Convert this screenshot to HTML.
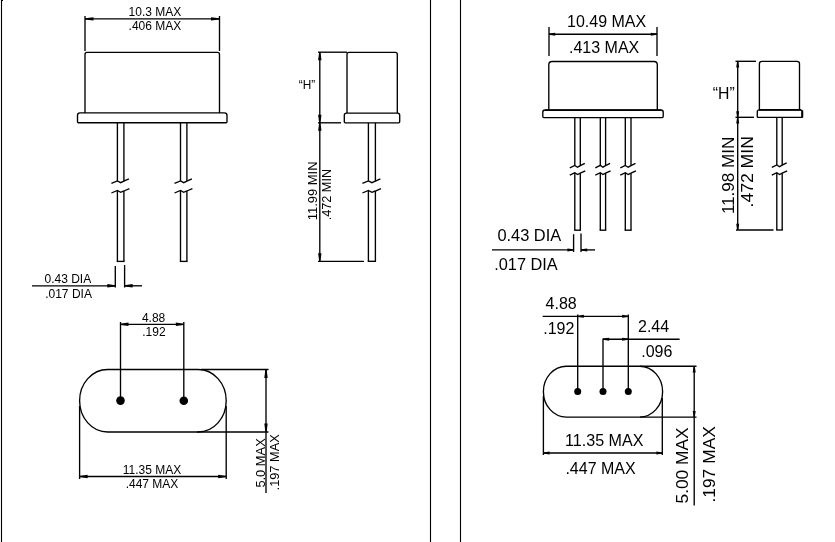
<!DOCTYPE html>
<html><head><meta charset="utf-8"><style>
html,body{margin:0;padding:0;background:#fff;width:835px;height:542px;overflow:hidden}
svg{display:block;will-change:transform}
text{font-family:"Liberation Sans",sans-serif;fill:#000}
</style></head><body>
<svg width="835" height="542" viewBox="0 0 835 542">
<rect width="835" height="542" fill="#fff"/>
<line x1="1.5" y1="0" x2="1.5" y2="542" stroke="#000" stroke-width="1.1"/>
<line x1="1" y1="0.5" x2="3" y2="0.5" stroke="#000" stroke-width="1.1"/>
<line x1="430.5" y1="0" x2="430.5" y2="542" stroke="#000" stroke-width="1.1"/>
<line x1="460.5" y1="0" x2="460.5" y2="542" stroke="#000" stroke-width="1.1"/>
<line x1="85" y1="16" x2="85" y2="51" stroke="#000" stroke-width="1.35"/>
<line x1="219.5" y1="16" x2="219.5" y2="51" stroke="#000" stroke-width="1.35"/>
<line x1="85" y1="18.9" x2="219.5" y2="18.9" stroke="#000" stroke-width="1.35"/>
<polygon points="85.00,18.30 93.50,17.20 93.50,20.60 85.00,19.50" fill="#000"/>
<polygon points="219.50,18.30 211.00,17.20 211.00,20.60 219.50,19.50" fill="#000"/>
<text x="128.6" y="16.1" font-size="12" text-anchor="start">10.3 MAX</text>
<text x="128.6" y="30.2" font-size="12" text-anchor="start">.406 MAX</text>
<path d="M85,112.9 L85,54.4 Q85,52.4 87,52.4 L217.5,52.4 Q219.5,52.4 219.5,54.4 L219.5,112.9" stroke="#000" stroke-width="1.35" fill="none"/>
<path d="M80.0,112.9 L224.5,112.9 Q227,112.9 227,115.4 L227,121.7 Q227,122.7 226,122.7 L78.5,122.7 Q77.5,122.7 77.5,121.7 L77.5,115.4 Q77.5,112.9 80.0,112.9 Z" stroke="#000" stroke-width="1.35" fill="none"/>
<line x1="117.4" y1="122.7" x2="117.4" y2="180.9" stroke="#000" stroke-width="1.35"/>
<line x1="123.9" y1="122.7" x2="123.9" y2="181.1" stroke="#000" stroke-width="1.35"/>
<line x1="117.4" y1="190.5" x2="117.4" y2="261.4" stroke="#000" stroke-width="1.35"/>
<line x1="123.9" y1="191.0" x2="123.9" y2="261.4" stroke="#000" stroke-width="1.35"/>
<line x1="116.72500000000001" y1="261.4" x2="124.575" y2="261.4" stroke="#000" stroke-width="1.35"/>
<path d="M111.4,183.3 L117.4,180.9 L120.65,182.7 L123.9,181.1 L128.9,178.9" stroke="#000" stroke-width="1.35" fill="none"/>
<path d="M111.4,193.0 L117.4,190.5 L120.65,192.3 L123.9,191.0 L129.4,188.60000000000002" stroke="#000" stroke-width="1.35" fill="none"/>
<line x1="180.5" y1="122.7" x2="180.5" y2="180.9" stroke="#000" stroke-width="1.35"/>
<line x1="186.9" y1="122.7" x2="186.9" y2="181.1" stroke="#000" stroke-width="1.35"/>
<line x1="180.5" y1="190.5" x2="180.5" y2="261.4" stroke="#000" stroke-width="1.35"/>
<line x1="186.9" y1="191.0" x2="186.9" y2="261.4" stroke="#000" stroke-width="1.35"/>
<line x1="179.825" y1="261.4" x2="187.57500000000002" y2="261.4" stroke="#000" stroke-width="1.35"/>
<path d="M174.5,183.3 L180.5,180.9 L183.7,182.7 L186.9,181.1 L191.9,178.9" stroke="#000" stroke-width="1.35" fill="none"/>
<path d="M174.5,193.0 L180.5,190.5 L183.7,192.3 L186.9,191.0 L192.4,188.60000000000002" stroke="#000" stroke-width="1.35" fill="none"/>
<line x1="115.3" y1="266" x2="115.3" y2="287.5" stroke="#000" stroke-width="1.35"/>
<line x1="124.6" y1="265" x2="124.6" y2="287.5" stroke="#000" stroke-width="1.35"/>
<line x1="32" y1="285.8" x2="115.3" y2="285.8" stroke="#000" stroke-width="1.35"/>
<polygon points="115.30,285.20 107.30,284.10 107.30,287.50 115.30,286.40" fill="#000"/>
<line x1="124.6" y1="285.8" x2="142" y2="285.8" stroke="#000" stroke-width="1.35"/>
<polygon points="124.60,285.20 132.60,284.10 132.60,287.50 124.60,286.40" fill="#000"/>
<text x="44.5" y="283" font-size="12" text-anchor="start">0.43 DIA</text>
<text x="45.2" y="297.6" font-size="12" text-anchor="start">.017 DIA</text>
<line x1="318" y1="52.2" x2="347" y2="52.2" stroke="#000" stroke-width="1.35"/>
<path d="M347,113.1 L347,54.4 Q347,52.4 349,52.4 L395.3,52.4 Q397.3,52.4 397.3,54.4 L397.3,113.1" stroke="#000" stroke-width="1.35" fill="none"/>
<path d="M346.5,113.1 L397.5,113.1 Q399.7,113.1 399.7,115.3 L399.7,121.8 Q399.7,122.8 398.7,122.8 L345.3,122.8 Q344.3,122.8 344.3,121.8 L344.3,115.3 Q344.3,113.1 346.5,113.1 Z" stroke="#000" stroke-width="1.35" fill="none"/>
<line x1="318" y1="122.8" x2="341" y2="122.8" stroke="#000" stroke-width="1.35"/>
<line x1="319.8" y1="52.2" x2="319.8" y2="122.8" stroke="#000" stroke-width="1.35"/>
<polygon points="319.20,52.20 318.10,60.20 321.50,60.20 320.40,52.20" fill="#000"/>
<polygon points="319.20,122.80 318.10,114.80 321.50,114.80 320.40,122.80" fill="#000"/>
<line x1="319.8" y1="122.8" x2="319.8" y2="261.3" stroke="#000" stroke-width="1.35"/>
<polygon points="319.20,122.80 318.10,130.80 321.50,130.80 320.40,122.80" fill="#000"/>
<polygon points="319.20,261.30 318.10,253.30 321.50,253.30 320.40,261.30" fill="#000"/>
<line x1="318" y1="261.3" x2="364" y2="261.3" stroke="#000" stroke-width="1.35"/>
<text transform="translate(298.8,89.3) scale(0.95,1.09)" font-size="12.5" text-anchor="start">“H”</text>
<line x1="368.4" y1="122.8" x2="368.4" y2="180.9" stroke="#000" stroke-width="1.35"/>
<line x1="375.4" y1="122.8" x2="375.4" y2="181.1" stroke="#000" stroke-width="1.35"/>
<line x1="368.4" y1="190.5" x2="368.4" y2="261.3" stroke="#000" stroke-width="1.35"/>
<line x1="375.4" y1="191.0" x2="375.4" y2="261.3" stroke="#000" stroke-width="1.35"/>
<line x1="367.72499999999997" y1="261.3" x2="376.075" y2="261.3" stroke="#000" stroke-width="1.35"/>
<path d="M362.4,183.3 L368.4,180.9 L371.9,182.7 L375.4,181.1 L380.4,178.9" stroke="#000" stroke-width="1.35" fill="none"/>
<path d="M362.4,193.0 L368.4,190.5 L371.9,192.3 L375.4,191.0 L380.9,188.60000000000002" stroke="#000" stroke-width="1.35" fill="none"/>
<text transform="translate(317.2,220.2) rotate(-90) scale(1.035,0.96)" font-size="12.5" text-anchor="start">11.99 MIN</text>
<text transform="translate(330.9,220.3) rotate(-90) scale(1.03,1)" font-size="12.3" text-anchor="start">.472 MIN</text>
<path d="M107.6,369.5 L198.2,369.5 A28,31.25 0 0 1 198.2,432 L107.6,432 A28,31.25 0 0 1 107.6,369.5 Z" stroke="#000" stroke-width="1.35" fill="none"/>
<line x1="201" y1="369.5" x2="268.5" y2="369.5" stroke="#000" stroke-width="1.35"/>
<line x1="197" y1="432" x2="268.5" y2="432" stroke="#000" stroke-width="1.35"/>
<line x1="266" y1="369.5" x2="266" y2="432" stroke="#000" stroke-width="1.35"/>
<polygon points="265.40,369.50 264.30,378.00 267.70,378.00 266.60,369.50" fill="#000"/>
<polygon points="265.40,432.00 264.30,423.50 267.70,423.50 266.60,432.00" fill="#000"/>
<line x1="266" y1="432" x2="266" y2="493" stroke="#000" stroke-width="1.35"/>
<circle cx="120.5" cy="400.6" r="4.3" fill="#000"/>
<circle cx="183.8" cy="400.8" r="4.3" fill="#000"/>
<line x1="120.5" y1="322" x2="120.5" y2="400" stroke="#000" stroke-width="1.35"/>
<line x1="183.8" y1="322" x2="183.8" y2="400" stroke="#000" stroke-width="1.35"/>
<line x1="120.5" y1="324.3" x2="183.8" y2="324.3" stroke="#000" stroke-width="1.35"/>
<polygon points="120.50,323.70 128.50,322.60 128.50,326.00 120.50,324.90" fill="#000"/>
<polygon points="183.80,323.70 175.80,322.60 175.80,326.00 183.80,324.90" fill="#000"/>
<text x="153.6" y="321.8" font-size="12" text-anchor="middle">4.88</text>
<text x="153.9" y="336.3" font-size="12" text-anchor="middle">.192</text>
<line x1="79.6" y1="406" x2="79.6" y2="479" stroke="#000" stroke-width="1.35"/>
<line x1="226.2" y1="406" x2="226.2" y2="479" stroke="#000" stroke-width="1.35"/>
<line x1="79.6" y1="476.5" x2="226.2" y2="476.5" stroke="#000" stroke-width="1.35"/>
<polygon points="79.60,475.90 87.60,474.80 87.60,478.20 79.60,477.10" fill="#000"/>
<polygon points="226.20,475.90 218.20,474.80 218.20,478.20 226.20,477.10" fill="#000"/>
<text x="152" y="473.9" font-size="12" text-anchor="middle">11.35 MAX</text>
<text x="152" y="488" font-size="12" text-anchor="middle">.447 MAX</text>
<text transform="translate(264.6,487.6) rotate(-90) scale(1.046,1)" font-size="12.3" text-anchor="start">5.0 MAX</text>
<text transform="translate(278.9,490.4) rotate(-90) scale(1.04,1)" font-size="12.3" text-anchor="start">.197 MAX</text>
<line x1="549" y1="27" x2="549" y2="56" stroke="#000" stroke-width="1.35"/>
<line x1="657" y1="27" x2="657" y2="56" stroke="#000" stroke-width="1.35"/>
<line x1="549" y1="34.2" x2="657" y2="34.2" stroke="#000" stroke-width="1.35"/>
<polygon points="549.00,33.60 555.20,32.70 555.20,35.70 549.00,34.80" fill="#000"/>
<polygon points="657.00,33.60 650.80,32.70 650.80,35.70 657.00,34.80" fill="#000"/>
<text x="567" y="26.6" font-size="16" text-anchor="start">10.49 MAX</text>
<text x="569" y="53.4" font-size="16" text-anchor="start">.413 MAX</text>
<path d="M548.8,110 L548.8,64.7 Q548.8,61.5 552.0,61.5 L654.0999999999999,61.5 Q657.3,61.5 657.3,64.7 L657.3,110" stroke="#000" stroke-width="1.35" fill="none"/>
<path d="M545.0,110 L661.0,110 Q663.2,110 663.2,112.2 L663.2,116.6 Q663.2,117.6 662.2,117.6 L543.8,117.6 Q542.8,117.6 542.8,116.6 L542.8,112.2 Q542.8,110 545.0,110 Z" stroke="#000" stroke-width="1.35" fill="none"/>
<line x1="545" y1="110.2" x2="661" y2="110.2" stroke="#000" stroke-width="1.5"/>
<line x1="574.8" y1="117.7" x2="574.8" y2="165.4" stroke="#000" stroke-width="1.35"/>
<line x1="580.3" y1="117.7" x2="580.3" y2="165.6" stroke="#000" stroke-width="1.35"/>
<line x1="574.8" y1="172.7" x2="574.8" y2="230.2" stroke="#000" stroke-width="1.35"/>
<line x1="580.3" y1="173.2" x2="580.3" y2="230.2" stroke="#000" stroke-width="1.35"/>
<line x1="574.125" y1="230.2" x2="580.9749999999999" y2="230.2" stroke="#000" stroke-width="1.35"/>
<path d="M569.8,167.8 L574.8,165.4 L577.55,167.2 L580.3,165.6 L584.8,163.4" stroke="#000" stroke-width="1.35" fill="none"/>
<path d="M569.8,175.2 L574.8,172.7 L577.55,174.5 L580.3,173.2 L585.25,170.8" stroke="#000" stroke-width="1.35" fill="none"/>
<line x1="600.3" y1="117.7" x2="600.3" y2="165.4" stroke="#000" stroke-width="1.35"/>
<line x1="605.6" y1="117.7" x2="605.6" y2="165.6" stroke="#000" stroke-width="1.35"/>
<line x1="600.3" y1="172.7" x2="600.3" y2="230.2" stroke="#000" stroke-width="1.35"/>
<line x1="605.6" y1="173.2" x2="605.6" y2="230.2" stroke="#000" stroke-width="1.35"/>
<line x1="599.625" y1="230.2" x2="606.275" y2="230.2" stroke="#000" stroke-width="1.35"/>
<path d="M595.3,167.8 L600.3,165.4 L602.95,167.2 L605.6,165.6 L610.1,163.4" stroke="#000" stroke-width="1.35" fill="none"/>
<path d="M595.3,175.2 L600.3,172.7 L602.95,174.5 L605.6,173.2 L610.5500000000001,170.8" stroke="#000" stroke-width="1.35" fill="none"/>
<line x1="625.3" y1="117.7" x2="625.3" y2="165.4" stroke="#000" stroke-width="1.35"/>
<line x1="631" y1="117.7" x2="631" y2="165.6" stroke="#000" stroke-width="1.35"/>
<line x1="625.3" y1="172.7" x2="625.3" y2="230.2" stroke="#000" stroke-width="1.35"/>
<line x1="631" y1="173.2" x2="631" y2="230.2" stroke="#000" stroke-width="1.35"/>
<line x1="624.625" y1="230.2" x2="631.675" y2="230.2" stroke="#000" stroke-width="1.35"/>
<path d="M620.3,167.8 L625.3,165.4 L628.15,167.2 L631,165.6 L635.5,163.4" stroke="#000" stroke-width="1.35" fill="none"/>
<path d="M620.3,175.2 L625.3,172.7 L628.15,174.5 L631,173.2 L635.95,170.8" stroke="#000" stroke-width="1.35" fill="none"/>
<line x1="573.6" y1="234.2" x2="573.6" y2="252" stroke="#000" stroke-width="1.35"/>
<line x1="581" y1="233.4" x2="581" y2="252" stroke="#000" stroke-width="1.35"/>
<line x1="492" y1="249.9" x2="573.6" y2="249.9" stroke="#000" stroke-width="1.35"/>
<polygon points="573.60,249.30 567.40,248.40 567.40,251.40 573.60,250.50" fill="#000"/>
<line x1="581" y1="249.9" x2="595" y2="249.9" stroke="#000" stroke-width="1.35"/>
<polygon points="581.00,249.30 587.20,248.40 587.20,251.40 581.00,250.50" fill="#000"/>
<text transform="translate(497.4,240.9) scale(1.025,1)" font-size="16" text-anchor="start">0.43 DIA</text>
<text transform="translate(494.2,269.7) scale(1.02,1)" font-size="16" text-anchor="start">.017 DIA</text>
<line x1="735.5" y1="61.3" x2="756" y2="61.3" stroke="#000" stroke-width="1.35"/>
<path d="M759.4,109.8 L759.4,63.8 Q759.4,61.3 761.9,61.3 L797.0,61.3 Q799.5,61.3 799.5,63.8 L799.5,109.8" stroke="#000" stroke-width="1.35" fill="none"/>
<path d="M759.3,109.8 L800.4,109.8 Q802.4,109.8 802.4,111.8 L802.4,116.8 Q802.4,117.3 801.9,117.3 L757.8,117.3 Q757.3,117.3 757.3,116.8 L757.3,111.8 Q757.3,109.8 759.3,109.8 Z" stroke="#000" stroke-width="1.35" fill="none"/>
<line x1="802.2" y1="110.5" x2="802.2" y2="117.6" stroke="#000" stroke-width="2"/>
<line x1="759" y1="109.9" x2="801" y2="109.9" stroke="#000" stroke-width="1.6"/>
<line x1="735.5" y1="117.3" x2="754" y2="117.3" stroke="#000" stroke-width="1.35"/>
<line x1="737.7" y1="61.3" x2="737.7" y2="117.4" stroke="#000" stroke-width="1.35"/>
<polygon points="737.10,61.30 736.20,67.50 739.20,67.50 738.30,61.30" fill="#000"/>
<polygon points="737.10,117.40 736.20,111.20 739.20,111.20 738.30,117.40" fill="#000"/>
<line x1="737.7" y1="117.4" x2="737.7" y2="230" stroke="#000" stroke-width="1.35"/>
<polygon points="737.10,117.40 736.20,123.60 739.20,123.60 738.30,117.40" fill="#000"/>
<polygon points="737.10,230.00 736.20,223.80 739.20,223.80 738.30,230.00" fill="#000"/>
<line x1="736" y1="230" x2="773.5" y2="230" stroke="#000" stroke-width="1.35"/>
<line x1="776.8" y1="117.5" x2="776.8" y2="164.9" stroke="#000" stroke-width="1.35"/>
<line x1="782.2" y1="117.5" x2="782.2" y2="165.1" stroke="#000" stroke-width="1.35"/>
<line x1="776.8" y1="172.7" x2="776.8" y2="230" stroke="#000" stroke-width="1.35"/>
<line x1="782.2" y1="173.2" x2="782.2" y2="230" stroke="#000" stroke-width="1.35"/>
<line x1="776.125" y1="230" x2="782.875" y2="230" stroke="#000" stroke-width="1.35"/>
<path d="M771.8,167.3 L776.8,164.9 L779.5,166.7 L782.2,165.1 L786.7,162.9" stroke="#000" stroke-width="1.35" fill="none"/>
<path d="M771.8,175.2 L776.8,172.7 L779.5,174.5 L782.2,173.2 L787.1500000000001,170.8" stroke="#000" stroke-width="1.35" fill="none"/>
<text transform="translate(712.8,99.4) scale(0.96,1.03)" font-size="16.5" text-anchor="start">“H”</text>
<text transform="translate(734.2,214.1) rotate(-90) scale(1.005,0.93)" font-size="17" text-anchor="start">11.98 MIN</text>
<text transform="translate(752.8,207.5) rotate(-90) scale(1.035,0.94)" font-size="17" text-anchor="start">.472 MIN</text>
<path d="M566.4,366.2 L639.6,366.2 A23,25.450000000000017 0 0 1 639.6,417.1 L566.4,417.1 A23,25.450000000000017 0 0 1 566.4,366.2 Z" stroke="#000" stroke-width="1.35" fill="none"/>
<line x1="640" y1="366.2" x2="696.5" y2="366.2" stroke="#000" stroke-width="1.35"/>
<line x1="640" y1="417.1" x2="696.5" y2="417.1" stroke="#000" stroke-width="1.35"/>
<line x1="694.2" y1="366.2" x2="694.2" y2="417.1" stroke="#000" stroke-width="1.35"/>
<polygon points="693.60,366.20 692.70,372.40 695.70,372.40 694.80,366.20" fill="#000"/>
<polygon points="693.60,417.10 692.70,410.90 695.70,410.90 694.80,417.10" fill="#000"/>
<line x1="694.2" y1="417.1" x2="694.2" y2="505.5" stroke="#000" stroke-width="1.35"/>
<circle cx="577.7" cy="391.5" r="3.5" fill="#000"/>
<circle cx="603" cy="391.5" r="3.5" fill="#000"/>
<circle cx="628.3" cy="391.5" r="3.5" fill="#000"/>
<line x1="577.7" y1="314.5" x2="577.7" y2="391" stroke="#000" stroke-width="1.35"/>
<line x1="628.3" y1="314.5" x2="628.3" y2="391" stroke="#000" stroke-width="1.35"/>
<line x1="603" y1="338.5" x2="603" y2="391" stroke="#000" stroke-width="1.35"/>
<line x1="542.7" y1="316.3" x2="628.3" y2="316.3" stroke="#000" stroke-width="1.35"/>
<polygon points="577.70,315.70 583.90,314.80 583.90,317.80 577.70,316.90" fill="#000"/>
<polygon points="628.30,315.70 622.10,314.80 622.10,317.80 628.30,316.90" fill="#000"/>
<line x1="603" y1="339.2" x2="679.6" y2="339.2" stroke="#000" stroke-width="1.35"/>
<polygon points="603.00,338.60 609.20,337.70 609.20,340.70 603.00,339.80" fill="#000"/>
<polygon points="628.30,338.60 622.10,337.70 622.10,340.70 628.30,339.80" fill="#000"/>
<text x="545.6" y="309.4" font-size="16" text-anchor="start">4.88</text>
<text x="543.2" y="334" font-size="16" text-anchor="start">.192</text>
<text x="638" y="331.8" font-size="16" text-anchor="start">2.44</text>
<text x="641.2" y="357.2" font-size="16" text-anchor="start">.096</text>
<line x1="543.4" y1="396" x2="543.4" y2="455" stroke="#000" stroke-width="1.35"/>
<line x1="662.3" y1="398" x2="662.3" y2="455" stroke="#000" stroke-width="1.35"/>
<line x1="543.4" y1="453" x2="662.6" y2="453" stroke="#000" stroke-width="1.35"/>
<polygon points="543.40,452.40 549.60,451.50 549.60,454.50 543.40,453.60" fill="#000"/>
<polygon points="662.60,452.40 656.40,451.50 656.40,454.50 662.60,453.60" fill="#000"/>
<text transform="translate(565,446.2) scale(1.008,1)" font-size="16" text-anchor="start">11.35 MAX</text>
<text x="565.4" y="473.8" font-size="16" text-anchor="start">.447 MAX</text>
<text transform="translate(687.6,503.5) rotate(-90) scale(1.02,0.92)" font-size="17" text-anchor="start">5.00 MAX</text>
<text transform="translate(714.5,502.6) rotate(-90) scale(1.025,0.92)" font-size="17" text-anchor="start">.197 MAX</text>
</svg>
</body></html>
